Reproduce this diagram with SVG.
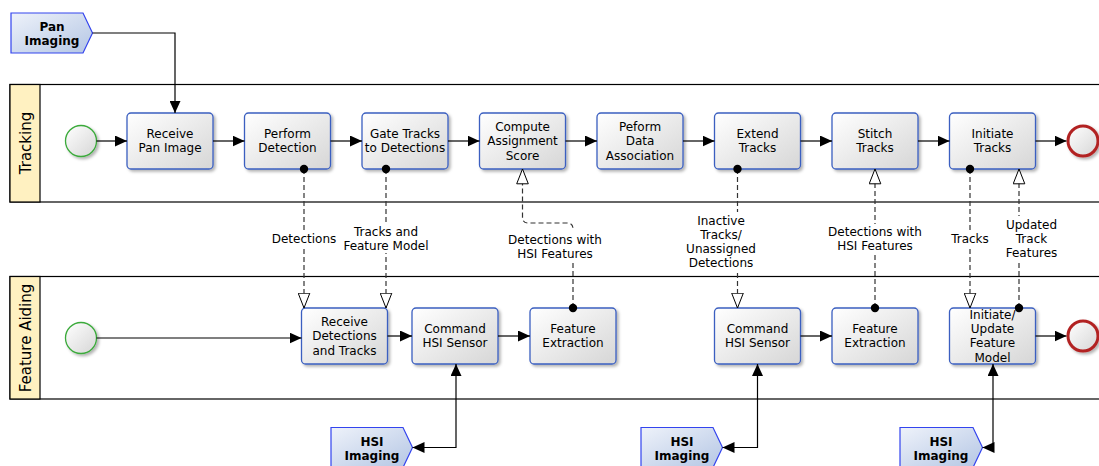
<svg xmlns="http://www.w3.org/2000/svg" width="1099" height="466" viewBox="0 0 1099 466">
<defs>
<linearGradient id="gBox" x1="0" y1="0" x2="1" y2="1"><stop offset="0" stop-color="#ffffff"/><stop offset="1" stop-color="#d6d6d6"/></linearGradient>
<linearGradient id="gData" x1="0" y1="0" x2="1" y2="1"><stop offset="0" stop-color="#eef2fa"/><stop offset="1" stop-color="#b4c6e4"/></linearGradient>
<filter id="sh" x="-10%" y="-10%" width="130%" height="130%"><feDropShadow dx="2" dy="2" stdDeviation="1.5" flood-color="#000" flood-opacity="0.3"/></filter>
<marker id="fa" viewBox="0 0 12 11" refX="12" refY="5.5" markerWidth="12" markerHeight="11" orient="auto-start-reverse" markerUnits="userSpaceOnUse"><path d="M0,0 L12,5.5 L0,11 z" fill="#000"/></marker>
<marker id="ha" viewBox="0 0 16 13" refX="15.5" refY="6.5" markerWidth="16" markerHeight="13" orient="auto" markerUnits="userSpaceOnUse"><path d="M0.7,0.7 L15.5,6.5 L0.7,12.3 z" fill="#fff" stroke="#000" stroke-width="1"/></marker>
<marker id="dot" viewBox="0 0 10 10" refX="5" refY="5" markerWidth="10" markerHeight="10" markerUnits="userSpaceOnUse"><circle cx="5" cy="5" r="4.2" fill="#000"/></marker>
<style>
.lane{fill:#fff;stroke:#000;stroke-width:1.2}
.band{fill:#fff1c1;stroke:#000;stroke-width:1.2}
.lt{font-family:"DejaVu Sans",sans-serif;font-size:15px;fill:#000}
.box{fill:url(#gBox);stroke:#3b5fc0;stroke-width:1.3;filter:url(#sh)}
.t{font-family:"DejaVu Sans",sans-serif;font-size:12px;fill:#000;text-anchor:middle}
.tb{font-family:"DejaVu Sans",sans-serif;font-size:12px;font-weight:bold;fill:#000;text-anchor:middle}
.data{fill:url(#gData);stroke:#3344ee;stroke-width:1.2}
.start{fill:url(#gBox);stroke:#3aaa3a;stroke-width:1.3;filter:url(#sh)}
.end{fill:url(#gBox);stroke:#b22222;stroke-width:3;filter:url(#sh)}
.seq{fill:none;stroke:#000;stroke-width:1.2;marker-end:url(#fa)}
.bi{fill:none;stroke:#000;stroke-width:1.2;marker-end:url(#fa);marker-start:url(#fa)}
.as{fill:none;stroke:#333;stroke-width:1.2;stroke-dasharray:5 3;marker-start:url(#dot);marker-end:url(#ha)}
.lb{fill:#fff}
</style>
</defs>
<g id="lanes">
<rect class="lane" x="10" y="84.5" width="1100" height="117.5"/>
<rect class="band" x="10" y="84.5" width="30" height="117.5"/>
<text class="lt" transform="translate(31,143) rotate(-90)" text-anchor="middle">Tracking</text>
<rect class="lane" x="10" y="276.5" width="1100" height="122.5"/>
<rect class="band" x="10" y="276.5" width="30" height="122.5"/>
<text class="lt" transform="translate(31,338) rotate(-90)" text-anchor="middle">Feature Aiding</text>
</g>
<g id="pan-imaging"><polygon class="data" points="11,13 83,13 92.5,33 83,53 11,53"/><text class="tb" x="52" y="30.5">Pan</text><text class="tb" x="52" y="45">Imaging</text></g>
<g id="hsi-imaging-1"><polygon class="data" points="331,427.5 403,427.5 412.5,447.5 403,467.5 331,467.5"/><text class="tb" x="372" y="445.5">HSI</text><text class="tb" x="372" y="460">Imaging</text></g>
<g id="hsi-imaging-2"><polygon class="data" points="641,427.5 713,427.5 722.5,447.5 713,467.5 641,467.5"/><text class="tb" x="682" y="445.5">HSI</text><text class="tb" x="682" y="460">Imaging</text></g>
<g id="hsi-imaging-3"><polygon class="data" points="900,427.5 973,427.5 982.5,447.5 973,467.5 900,467.5"/><text class="tb" x="941" y="445.5">HSI</text><text class="tb" x="941" y="460">Imaging</text></g>
<g id="start-tracking"><circle class="start" cx="81" cy="141" r="15.5"/></g>
<g id="end-tracking"><circle class="end" cx="1083" cy="141" r="15"/></g>
<g id="start-feature"><circle class="start" cx="81" cy="338" r="15.5"/></g>
<g id="end-feature"><circle class="end" cx="1083" cy="336" r="15"/></g>
<g id="receive-pan-image"><rect class="box" x="127" y="113" width="86" height="56" rx="4"/><text class="t" x="170" y="138">Receive</text><text class="t" x="170" y="152.3">Pan Image</text></g>
<g id="perform-detection"><rect class="box" x="244.5" y="113" width="86" height="56" rx="4"/><text class="t" x="287.5" y="138">Perform</text><text class="t" x="287.5" y="152.3">Detection</text></g>
<g id="gate-tracks"><rect class="box" x="362" y="113" width="86" height="56" rx="4"/><text class="t" x="405" y="138">Gate Tracks</text><text class="t" x="405" y="152.3">to Detections</text></g>
<g id="compute-score"><rect class="box" x="479.5" y="113" width="86" height="56" rx="4"/><text class="t" x="522.5" y="130.9">Compute</text><text class="t" x="522.5" y="145.2">Assignment</text><text class="t" x="522.5" y="159.5">Score</text></g>
<g id="data-association"><rect class="box" x="597" y="113" width="86" height="56" rx="4"/><text class="t" x="640" y="130.9">Peform</text><text class="t" x="640" y="145.2">Data</text><text class="t" x="640" y="159.5">Association</text></g>
<g id="extend-tracks"><rect class="box" x="714.5" y="113" width="86" height="56" rx="4"/><text class="t" x="757.5" y="138">Extend</text><text class="t" x="757.5" y="152.3">Tracks</text></g>
<g id="stitch-tracks"><rect class="box" x="832" y="113" width="86" height="56" rx="4"/><text class="t" x="875" y="138">Stitch</text><text class="t" x="875" y="152.3">Tracks</text></g>
<g id="initiate-tracks"><rect class="box" x="949.5" y="113" width="86" height="56" rx="4"/><text class="t" x="992.5" y="138">Initiate</text><text class="t" x="992.5" y="152.3">Tracks</text></g>
<g id="receive-detections"><rect class="box" x="301.5" y="308" width="86" height="56" rx="4"/><text class="t" x="344.5" y="326">Receive</text><text class="t" x="344.5" y="340.3">Detections</text><text class="t" x="344.5" y="354.6">and Tracks</text></g>
<g id="command-hsi-1"><rect class="box" x="412" y="308" width="86" height="56" rx="4"/><text class="t" x="455" y="333">Command</text><text class="t" x="455" y="347.3">HSI Sensor</text></g>
<g id="feature-extraction-1"><rect class="box" x="530" y="308" width="86" height="56" rx="4"/><text class="t" x="573" y="333">Feature</text><text class="t" x="573" y="347.3">Extraction</text></g>
<g id="command-hsi-2"><rect class="box" x="714.5" y="308" width="86" height="56" rx="4"/><text class="t" x="757.5" y="333">Command</text><text class="t" x="757.5" y="347.3">HSI Sensor</text></g>
<g id="feature-extraction-2"><rect class="box" x="832" y="308" width="86" height="56" rx="4"/><text class="t" x="875" y="333">Feature</text><text class="t" x="875" y="347.3">Extraction</text></g>
<g id="update-feature-model"><rect class="box" x="949.5" y="308" width="86" height="56" rx="4"/><text class="t" x="992.5" y="318.6">Initiate/</text><text class="t" x="992.5" y="332.9">Update</text><text class="t" x="992.5" y="347.2">Feature</text><text class="t" x="992.5" y="361.5">Model</text></g>
<g id="connectors">
<path class="seq" d="M92.5,33 H175 V113"/>
<path class="seq" d="M96.5,141 H127"/>
<path class="seq" d="M213,141 H244.5"/>
<path class="seq" d="M330.5,141 H362"/>
<path class="seq" d="M448,141 H479.5"/>
<path class="seq" d="M565.5,141 H597"/>
<path class="seq" d="M683,141 H714.5"/>
<path class="seq" d="M800.5,141 H832"/>
<path class="seq" d="M918,141 H949.5"/>
<path class="seq" d="M1035.5,141 H1066.5"/>
<path class="seq" d="M96.5,338 H301.5"/>
<path class="seq" d="M387.5,336 H412"/>
<path class="seq" d="M498,336 H530"/>
<path class="seq" d="M800.5,336 H832"/>
<path class="seq" d="M1035.5,336 H1066.5"/>
<path class="bi" d="M412.5,447.5 H456 V364"/>
<path class="bi" d="M722.5,447.5 H757.5 V364"/>
<path class="bi" d="M982.5,447.5 H993 V364"/>
<path class="as" d="M304,169 V308"/>
<path class="as" d="M386,169 V308"/>
<path class="as" d="M573,308 V229 Q573,223 567,223 H528 Q522.5,223 522.5,217 V169"/>
<path class="as" d="M737.5,169 V308"/>
<path class="as" d="M875,308 V169"/>
<path class="as" d="M970,169 V308"/>
<path class="as" d="M1019,308 V169"/>
<rect class="lb" x="271" y="231" width="66" height="15"/>
<text class="t" x="304" y="242.5">Detections</text>
<rect class="lb" x="342" y="224" width="88" height="29"/>
<text class="t" x="386" y="235.5">Tracks and</text>
<text class="t" x="386" y="249.5">Feature Model</text>
<rect class="lb" x="506" y="231" width="98" height="30"/>
<text class="t" x="555" y="243.5">Detections with</text>
<text class="t" x="555" y="257.5">HSI Features</text>
<rect class="lb" x="685" y="212" width="73" height="58"/>
<text class="t" x="721" y="225">Inactive</text>
<text class="t" x="721" y="239">Tracks/</text>
<text class="t" x="721" y="253">Unassigned</text>
<text class="t" x="721" y="267">Detections</text>
<rect class="lb" x="826" y="224" width="98" height="29"/>
<text class="t" x="875" y="236">Detections with</text>
<text class="t" x="875" y="250">HSI Features</text>
<rect class="lb" x="948" y="231" width="44" height="15"/>
<text class="t" x="970" y="242.5">Tracks</text>
<rect class="lb" x="1002" y="216" width="60" height="44"/>
<text class="t" x="1031.5" y="229">Updated</text>
<text class="t" x="1031.5" y="243">Track</text>
<text class="t" x="1031.5" y="257">Features</text>
</g>
</svg>
